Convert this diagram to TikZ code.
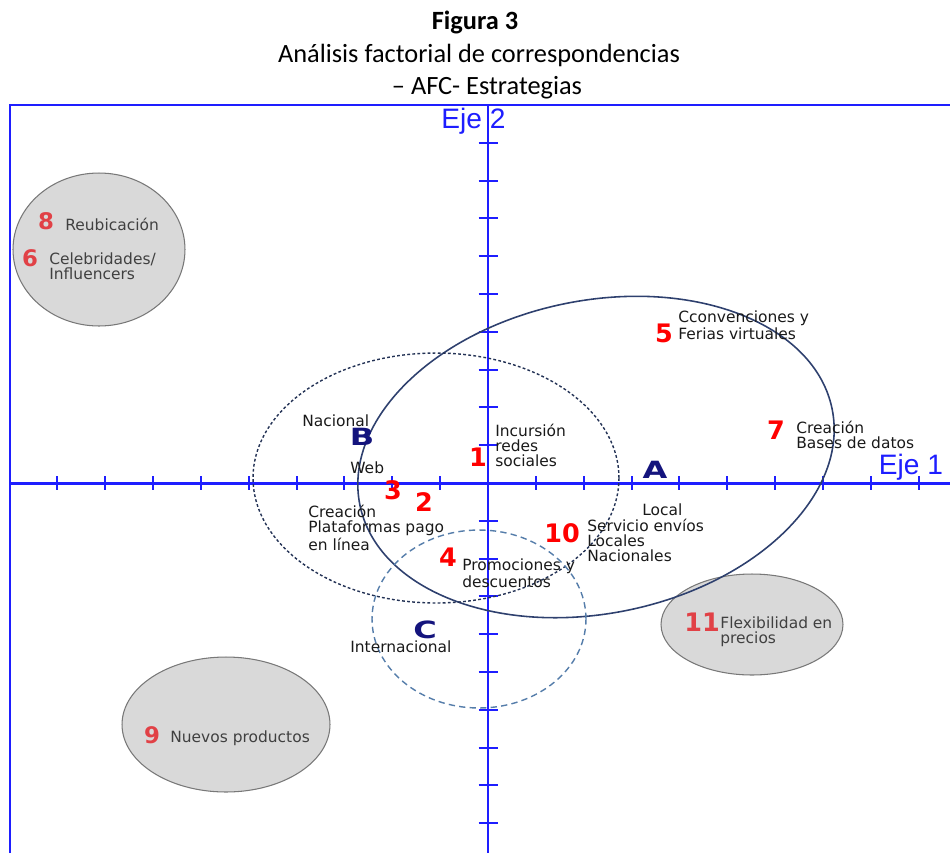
\documentclass[tikz,border=0pt]{standalone}
\usepackage{fontspec}
\setmainfont{DejaVu Sans}
\newfontfamily\titlefont{Carlito}
\newfontfamily\ejefont{Liberation Sans}
\definecolor{axisblue}{RGB}{30,30,255}
\definecolor{navyline}{RGB}{46,64,110}
\definecolor{darkdash}{RGB}{35,50,85}
\definecolor{dashblue}{RGB}{85,125,170}
\definecolor{numred}{RGB}{255,0,0}
\definecolor{softred}{RGB}{225,65,70}
\definecolor{letternavy}{RGB}{20,20,125}
\definecolor{grayfill}{RGB}{217,217,217}
\definecolor{grayline}{RGB}{120,120,120}
\definecolor{graytext}{RGB}{64,64,64}
\tikzset{
  lbl/.style={font=\fontsize{8.8}{8.5}\selectfont, align=left, inner sep=0pt, anchor=west, text=black!90},
  glbl/.style={lbl, text=graytext},
  bignum/.style={font=\fontsize{14.5}{14.5}\selectfont\bfseries, text=numred, inner sep=0pt},
  smallnum/.style={font=\fontsize{13}{13}\selectfont\bfseries, text=softred, inner sep=0pt},
  letterlbl/.style={font=\fontsize{13.5}{13.5}\selectfont\bfseries, text=letternavy, inner sep=0pt},
  ejelbl/.style={font=\ejefont\fontsize{16}{16}\selectfont, text=axisblue, inner sep=0pt},
  titlelbl/.style={font=\titlefont\fontsize{15}{15}\selectfont, inner sep=0pt},
  grayell/.style={fill=grayfill, draw=grayline, line width=0.6pt},
  axisline/.style={draw=axisblue, line width=1.7pt},
  frameline/.style={draw=axisblue, line width=1.1pt},
  tickline/.style={draw=axisblue, line width=1.1pt},
}
\begin{document}
\begin{tikzpicture}[x=0.02cm,y=-0.02cm]
\useasboundingbox (0,0) rectangle (950,853);
% title
\node[titlelbl, font=\titlefont\fontsize{15}{15}\selectfont\bfseries] (t1) at (475,22) {Figura 3};
\node[titlelbl] (t2) at (479,55) {Análisis factorial de correspondencias};
\node[titlelbl] (t3) at (487,88) {– AFC- Estrategias};
% gray ellipses
\draw[grayell] (99,249.5) ellipse [x radius=1.72cm, y radius=1.53cm];
\draw[grayell] (226,724.5) ellipse [x radius=2.08cm, y radius=1.35cm];
\draw[grayell] (752,624.5) ellipse [x radius=1.82cm, y radius=1.01cm];
% axis labels (under the axes)
\node[ejelbl, anchor=west] (eje2) at (441,121) {Eje\hspace{4.5pt}2};
\node[ejelbl] (eje1) at (911,467) {Eje 1};
% frame
\coordinate (ftl) at (10,105);
\coordinate (ftr) at (950,105);
\coordinate (fbl) at (10,853);
\draw[frameline] (fbl) -- (ftl) -- (ftr);
% axes
\coordinate (xl) at (10,483);
\coordinate (xr) at (950,483);
\coordinate (yt) at (488,105);
\coordinate (yb) at (488,853);
\draw[axisline] (xl) -- (xr);
\draw[axisline] (yt) -- (yb);
\foreach \k in {-9,...,-1,1,2,...,9}{
  \draw[tickline] (488+\k*47.85,476) -- (488+\k*47.85,490);
  \draw[tickline] (478.5,483+\k*37.8) -- (497.5,483+\k*37.8);
}
% cluster ellipses
\draw[navyline, line width=0.9pt, rotate around={11.5:(596,457)}] (596,457) ellipse [x radius=4.82cm, y radius=3.13cm];
\draw[darkdash, line width=0.8pt, dash pattern=on 1.6pt off 1.3pt] (436,478) ellipse [x radius=3.66cm, y radius=2.5cm];
\draw[dashblue, line width=0.8pt, dash pattern=on 3.6pt off 2.4pt] (479,619) ellipse [x radius=2.14cm, y radius=1.78cm];
% gray ellipse contents
\node[smallnum] (n8) at (46,221) {8};
\node[glbl] (l8) at (65,224) {Reubicación};
\node[smallnum] (n6) at (30,258) {6};
\node[glbl] (l6) at (49,266) {Celebridades/\\Influencers};
\node[smallnum] (n9) at (152,735) {9};
\node[glbl] (l9) at (170,738) {Nuevos productos};
\node[bignum, text=softred] (n11) at (702,622) {11};
\node[glbl] (l11) at (720,632) {Flexibilidad en\\precios};
% central labels
\node[bignum] (n5) at (664,333) {5};
\node[lbl] (l5) at (678,325) {Cconvenciones y\\Ferias virtuales};
\node[bignum] (n7) at (776,430) {7};
\node[lbl] (l7) at (796,434.5) {Creación\\Bases de datos};
\node[bignum] (n1) at (478,457) {1};
\node[lbl] (l1) at (495,445) {Incursión\\redes\\sociales};
\node[letterlbl] (lb) at (362,437) {\scalebox{1.35}[1]{B}};
\node[lbl] (nac) at (302,421) {Nacional};
\node[lbl] (web) at (350,468) {Web};
\node[bignum] (n3) at (393,490) {3};
\node[bignum] (n2) at (424,502) {2};
\node[letterlbl] (la) at (655,470) {\scalebox{1.35}[1]{A}};
\node[lbl] (loc) at (642,510) {Local};
\node[lbl] (l10) at (587,540) {Servicio envíos\\Locales\\Nacionales};
\node[bignum] (n10) at (562,533) {10};
\node[lbl] (lpl) at (308,528) {Creación\\Plataformas pago\\en línea};
\node[bignum] (n4) at (448,557) {4};
\node[lbl] (l4) at (462,573.5) {Promociones y\\descuentos};
\node[letterlbl] (lc) at (425,630) {\scalebox{1.35}[1]{C}};
\node[lbl] (int) at (350,647) {Internacional};
\end{tikzpicture}
\end{document}
